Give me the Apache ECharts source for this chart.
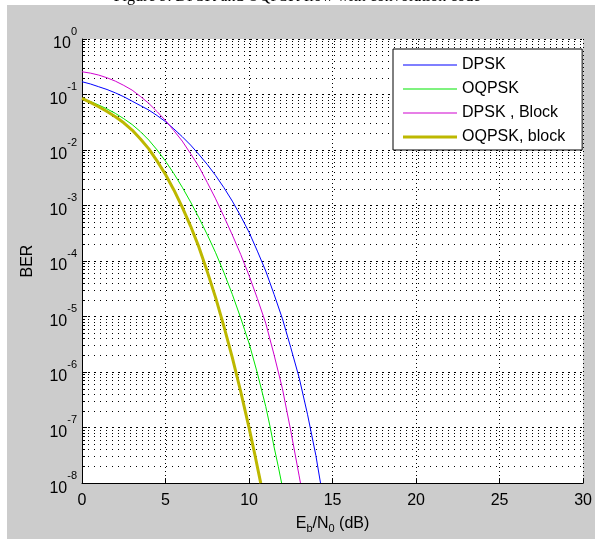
<!DOCTYPE html>
<html><head><meta charset="utf-8">
<script src="https://cdn.jsdelivr.net/npm/echarts@6/dist/echarts.min.js"></script>
<style>html,body{margin:0;padding:0;background:#fff}#c{width:595px;height:539px}</style>
</head><body><div id="c"></div>
<script>
// ---- data ----
const titleText = 'Figure 9. DPSK and OQPSK flow with convolution code';
const seriesNames = ['DPSK', 'OQPSK', 'DPSK , Block', 'OQPSK, block'];
const yAxisName = 'BER';

const dpskX = [0, 0.5, 1, 1.5, 2, 2.5, 3, 3.5, 4, 4.5, 5, 5.5, 6, 6.5, 7, 7.5, 8, 8.5, 9, 9.5, 10, 10.5, 11, 11.5, 12, 12.5, 13, 13.5, 14, 14.28];
const dpskBER = [0.170, 0.155, 0.138, 0.123, 0.107, 0.0912, 0.0759, 0.0631, 0.0525, 0.0417,
  0.0324, 0.0240, 0.0174, 0.0123, 0.00832, 0.00550, 0.00347, 0.00209, 0.00120, 6.46e-4,
  3.31e-4, 1.51e-4, 6.61e-5, 2.51e-5, 9.12e-6, 2.75e-6, 7.94e-7, 1.74e-7, 3.16e-8, 1e-8];

const oqpskX = [0, 0.5, 1, 1.5, 2, 2.5, 3, 3.5, 4, 4.5, 5, 5.5, 6, 6.5, 7, 7.5, 8, 8.5, 9, 9.5, 10, 10.5, 11, 11.25, 11.5, 11.75, 11.95];
const oqpskBER = [0.0851, 0.0750, 0.0646, 0.0550, 0.0457, 0.0367, 0.0288, 0.0214, 0.0151, 0.0100,
  0.00631, 0.00376, 0.00214, 0.00116, 6.03e-4, 2.99e-4, 1.41e-4, 6.17e-5, 2.51e-5, 9.44e-6,
  3.31e-6, 9.55e-7, 2.40e-7, 1.07e-7, 4.47e-8, 2.00e-8, 1e-8];

const dpskBlockX = [0, 0.5, 1, 1.5, 2, 2.5, 3, 3.5, 4, 4.5, 5, 5.5, 6, 6.5, 7, 7.5, 8, 8.5, 9, 9.5, 10, 10.5, 11, 11.5, 12, 12.5, 13, 13.08];
const dpskBlockBER = [0.257, 0.243, 0.224, 0.200, 0.174, 0.146, 0.120, 0.0923, 0.0692, 0.0490,
  0.0339, 0.0224, 0.0145, 0.00861, 0.00501, 0.00260, 0.00132, 6.31e-4, 2.95e-4, 1.32e-4,
  5.50e-5, 2.11e-5, 7.59e-6, 2.04e-6, 5.01e-7, 8.71e-8, 1.35e-8, 1e-8];

const oqpskBlockX = [0, 0.5, 1, 1.5, 2, 2.5, 3, 3.5, 4, 4.5, 5, 5.5, 6, 6.5, 7, 7.5, 8, 8.5, 9, 9.5, 10, 10.35, 10.7];
const oqpskBlockBER = [0.0851, 0.0724, 0.0603, 0.0495, 0.0398, 0.0309, 0.0229, 0.0158, 0.0105, 0.00631,
  0.00363, 0.00191, 9.33e-4, 4.27e-4, 1.78e-4, 6.46e-5, 2.19e-5, 6.61e-6, 1.82e-6, 4.47e-7,
  1.0e-7, 3.24e-8, 1e-8];

const xTicks = [0, 5, 10, 15, 20, 25, 30];
const yDecadeExps = [-8, -7, -6, -5, -4, -3, -2, -1, 0];
const minorMantissas = [2, 3, 4, 5, 6, 7, 8, 9];

// ---- build ----
const pairs = (xs, ys) => xs.map((x, i) => [x, ys[i]]);
const minorVals = [];
yDecadeExps.slice(0, -1).forEach(e => minorMantissas.forEach(m => minorVals.push(m * Math.pow(10, e))));
const xMin = xTicks[0], xMax = xTicks[xTicks.length - 1];

const FONT = 'Liberation Sans, Arial, sans-serif';
const colors = ['#0000ff', '#00e600', '#d000d0', '#bdb800'];
const widths = [1, 1, 1, 3];
const datasets = [pairs(dpskX, dpskBER), pairs(oqpskX, oqpskBER), pairs(dpskBlockX, dpskBlockBER), pairs(oqpskBlockX, oqpskBlockBER)];

const chart = echarts.init(document.getElementById('c'), null, {renderer: 'canvas'});

const series = seriesNames.map((n, i) => ({
  name: n, type: 'line', data: datasets[i], symbol: 'none', showSymbol: false,
  lineStyle: {color: colors[i], width: widths[i]}, itemStyle: {color: colors[i]},
  z: 5 + i, animation: false, clip: true
}));

const gridDots = {type: [1, 5], color: '#000', width: 1};
const tickSolid = {type: 'solid', color: '#000', width: 1};
series.unshift({
  name: '_grid', type: 'line', data: [], z: 2, silent: true, animation: false,
  markLine: {
    silent: true, symbol: ['none', 'none'], animation: false,
    label: {show: false},
    lineStyle: gridDots,
    emphasis: {disabled: true},
    data: minorVals.map(v => [
        {coord: [xMin, v], lineStyle: gridDots},
        {coord: [xMax, v], lineStyle: gridDots}
      ]).concat(minorVals.map(v => [
        {coord: [xMin, v], lineStyle: tickSolid},
        {coord: [xMin + 0.18, v], lineStyle: tickSolid}
      ]))
  }
});

const lineIcon = w => 'path://M0,0H54V' + w + 'H0Z';

chart.setOption({
  backgroundColor: '#cccccc',
  animation: false,
  graphic: [
    {type: 'rect', left: 0, top: 0, shape: {x: 0, y: 0, width: 595, height: 5}, style: {fill: '#fff'}, z: 0},
    {type: 'rect', left: 0, top: 0, shape: {x: 0, y: 0, width: 7, height: 539}, style: {fill: '#fff'}, z: 0},
    {type: 'text', x: 297, y: -11, style: {text: titleText, font: '16px "Liberation Serif", serif', fill: '#000', align: 'center', verticalAlign: 'top'}, z: 1}
  ],
  grid: {left: 82, top: 39, right: 6, bottom: 55, show: true, backgroundColor: '#fff', borderWidth: 0, containLabel: false},
  legend: {
    orient: 'vertical', left: 393, top: 49,
    backgroundColor: '#fff', borderColor: '#000', borderWidth: 1, borderRadius: 0,
    padding: [8, 17, 5, 10], itemWidth: 54, itemHeight: 14, itemGap: 8,
    textStyle: {fontSize: 16, fontFamily: FONT, color: '#000', lineHeight: 16},
    data: seriesNames.map((n, i) => ({name: n, icon: lineIcon(widths[i] === 3 ? 3 : 1.2), itemStyle: {color: colors[i]}})),
    selectedMode: false, z: 20
  },
  xAxis: {
    type: 'value', min: xMin, max: xMax, interval: 5,
    name: '{n|E}{sb|b}{n|/N}{sb|0}{n| (dB)}', nameLocation: 'middle', nameGap: 26,
    nameTextStyle: {
      rich: {
        n: {fontSize: 16, fontFamily: FONT, color: '#000', lineHeight: 18, verticalAlign: 'top'},
        sb: {fontSize: 11, fontFamily: FONT, color: '#000', lineHeight: 12, padding: [10, 0, 0, 0], verticalAlign: 'bottom'}
      }
    },
    axisLine: {lineStyle: {color: '#000', width: 1}},
    axisTick: {inside: true, length: 5, lineStyle: {color: '#000'}},
    axisLabel: {color: '#000', fontSize: 16, fontFamily: FONT, margin: 9},
    splitLine: {show: true, lineStyle: {color: '#000', type: [1, 3], width: 1}}
  },
  yAxis: {
    type: 'log', logBase: 10, min: 1e-8, max: 1, splitNumber: 8,
    name: yAxisName, nameLocation: 'middle', nameGap: 46,
    nameTextStyle: {fontSize: 16, fontFamily: FONT, color: '#000'},
    axisLine: {show: true, lineStyle: {color: '#000', width: 1}},
    axisTick: {show: true, inside: true, length: 5, lineStyle: {color: '#000'}},
    minorTick: {show: false},
    axisLabel: {
      margin: 5,
      formatter: v => '{b|10}{s|' + Math.round(Math.log10(v)) + '}',
      rich: {
        b: {fontSize: 16, fontFamily: FONT, color: '#000', lineHeight: 26, verticalAlign: 'bottom'},
        s: {fontSize: 11, fontFamily: FONT, color: '#000', lineHeight: 14, verticalAlign: 'top'}
      }
    },
    splitLine: {show: true, lineStyle: {color: '#000', type: [2, 4], width: 1}}
  },
  series: series
});
</script></body></html>
